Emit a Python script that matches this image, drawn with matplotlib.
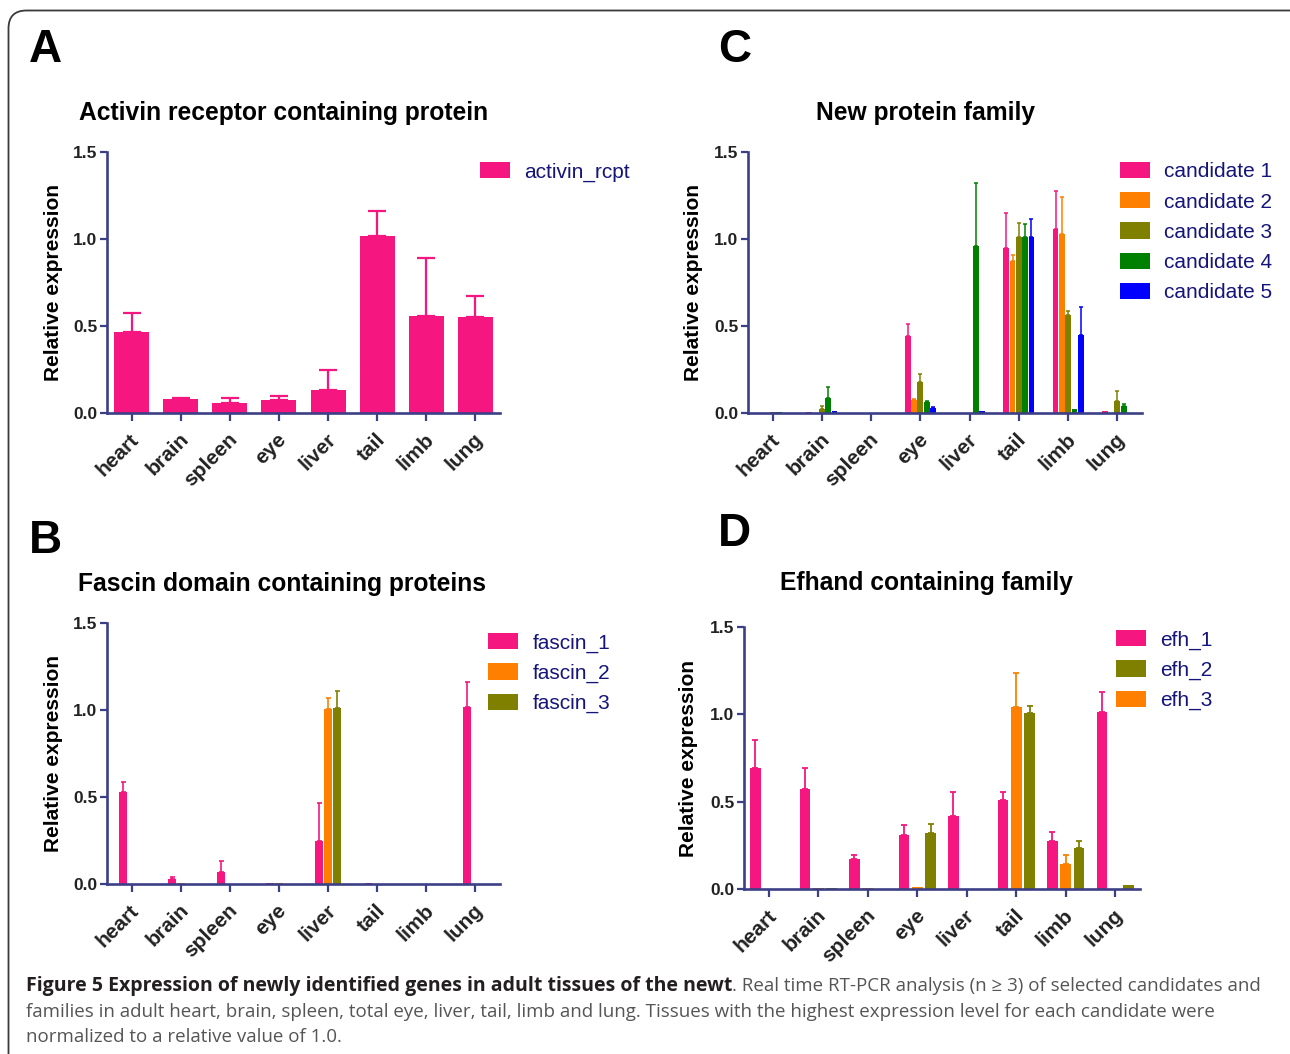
import numpy as np
import matplotlib
matplotlib.use("Agg")
import matplotlib.pyplot as plt
from matplotlib.patches import FancyBboxPatch
from matplotlib.transforms import ScaledTranslation

# ---------------- data ----------------
tissues = ["heart", "brain", "spleen", "eye", "liver", "tail", "limb", "lung"]

# Panel A
activin_vals = [0.467, 0.079, 0.057, 0.073, 0.134, 1.02, 0.56, 0.55]
activin_err = [0.108, 0.009, 0.027, 0.027, 0.111, 0.14, 0.33, 0.12]

# Panel C
cand1_vals = [0.0, 0.005, 0.002, 0.44, 0.0, 0.946, 1.057, 0.01]
cand1_err = [0.0, 0.0, 0.0, 0.069, 0.0, 0.205, 0.22, 0.0]
cand2_vals = [0.0, 0.0, 0.0, 0.076, 0.0, 0.874, 1.031, 0.0]
cand2_err = [0.0, 0.0, 0.0, 0.004, 0.0, 0.032, 0.21, 0.0]
cand3_vals = [0.005, 0.023, 0.0, 0.178, 0.0, 1.01, 0.566, 0.067]
cand3_err = [0.0, 0.019, 0.0, 0.044, 0.0, 0.08, 0.019, 0.057]
cand4_vals = [0.003, 0.086, 0.0, 0.063, 0.96, 1.01, 0.023, 0.04]
cand4_err = [0.0, 0.065, 0.0, 0.004, 0.359, 0.078, 0.0, 0.014]
cand5_vals = [0.0, 0.013, 0.0, 0.029, 0.01, 1.013, 0.451, 0.0]
cand5_err = [0.0, 0.0, 0.0, 0.004, 0.0, 0.102, 0.157, 0.0]

# Panel B
fascin1_vals = [0.527, 0.027, 0.071, 0.004, 0.247, 0.003, 0.0, 1.019]
fascin1_err = [0.057, 0.013, 0.063, 0.0, 0.217, 0.0, 0.0, 0.142]
fascin2_vals = [0.0, 0.003, 0.0, 0.004, 1.004, 0.0, 0.0, 0.0]
fascin2_err = [0.0, 0.0, 0.0, 0.0, 0.065, 0.0, 0.0, 0.0]
fascin3_vals = [0.0, 0.0, 0.0, 0.0, 1.01, 0.0, 0.0, 0.0]
fascin3_err = [0.0, 0.0, 0.0, 0.0, 0.099, 0.0, 0.0, 0.0]

# Panel D (bar order: efh_1, efh_3, efh_2)
efh1_vals = [0.694, 0.574, 0.17, 0.308, 0.419, 0.507, 0.273, 1.015]
efh1_err = [0.159, 0.12, 0.023, 0.059, 0.139, 0.046, 0.052, 0.111]
efh3_vals = [0.0, 0.005, 0.003, 0.013, 0.0, 1.04, 0.141, 0.002]
efh3_err = [0.0, 0.0, 0.0, 0.0, 0.0, 0.195, 0.056, 0.0]
efh2_vals = [0.0, 0.008, 0.0, 0.323, 0.0, 1.006, 0.237, 0.021]
efh2_err = [0.0, 0.0, 0.0, 0.048, 0.0, 0.044, 0.036, 0.0]

yticks = [0.0, 0.5, 1.0, 1.5]

# ---------------- style ----------------
PINK = "#F5177F"
ORANGE = "#FF8000"
OLIVE = "#808000"
GREEN = "#008000"
BLUE = "#0000FF"
NAVY = "#3B3F86"
LEGTXT = "#14147A"
TXT = "#222222"
FONT = ["Liberation Sans", "DejaVu Sans"]

plt.rcParams["font.family"] = FONT

W, H = 1290, 1054
fig = plt.figure(figsize=(W / 100, H / 100), dpi=100)

# background axes in pixel coordinates
bg = fig.add_axes([0, 0, 1, 1], zorder=-5)
bg.set_xlim(0, W)
bg.set_ylim(H, 0)
bg.axis("off")
frame = FancyBboxPatch((8.5, 10.5), 1320, 1100,
                       boxstyle="round,pad=0,rounding_size=18",
                       fc="none", ec="#3a3a3a", lw=1.3)
bg.add_patch(frame)


def px_axes(x0, x1, ytop, ybot):
    return fig.add_axes([x0 / W, 1 - ybot / H, (x1 - x0) / W, (ybot - ytop) / H])


def style(ax, ylab_x):
    ax.set_xlim(-0.5, 7.5)
    ax.set_ylim(0, 1.5)
    for s in ("top", "right"):
        ax.spines[s].set_visible(False)
    for s in ("left", "bottom"):
        ax.spines[s].set_color(NAVY)
        ax.spines[s].set_linewidth(1.9)
    ax.set_yticks(yticks)
    ax.set_yticklabels(["%.1f" % v for v in yticks], fontsize=12.5,
                       fontweight="bold", color=TXT)
    ax.set_xticks(np.arange(len(tissues)))
    ax.set_xticklabels(tissues, fontsize=15, fontweight="bold", color=TXT,
                       rotation=45, ha="right", va="top", rotation_mode="anchor")
    ax.tick_params(axis="y", direction="out", length=5, width=1.6,
                   color=NAVY, pad=2)
    ax.tick_params(axis="x", direction="out", length=6, width=1.6,
                   color=NAVY, pad=6)
    off = ScaledTranslation(-0.02, 0, fig.dpi_scale_trans)
    for lab in ax.get_xticklabels():
        lab.set_transform(lab.get_transform() + off)
    ax.set_ylabel("Relative expression", fontsize=15, fontweight="bold",
                  color="black")
    ax.yaxis.set_label_coords(ylab_x, 0.5)
    ax.patch.set_alpha(0)


def grouped(ax, series, errs, colors, labels, spacing, width, capsize, elw):
    n = len(series)
    x = np.arange(len(tissues))
    handles = []
    for k, (vals, err, col, lab) in enumerate(zip(series, errs, colors, labels)):
        xs = x + (k - (n - 1) / 2) * spacing
        v = np.asarray(vals)
        e = np.asarray(err)
        b = ax.bar(xs, v, width=width, color=col, lw=0, label=lab, zorder=2)
        handles.append(b)
        m = e > 0
        if m.any():
            ax.errorbar(xs[m], v[m], yerr=[np.zeros(m.sum()), e[m]], fmt="none",
                        ecolor=col, elinewidth=elw, capsize=capsize,
                        capthick=elw, zorder=3)
    return handles


def legend(ax, handles, labels, x, ytop):
    ax.legend(handles, labels, loc="upper left",
              bbox_to_anchor=(x / W, 1 - ytop / H),
              bbox_transform=fig.transFigure, frameon=False,
              fontsize=15, handlelength=1.45, handleheight=0.82,
              handletextpad=0.68, labelspacing=0.52, borderpad=0,
              borderaxespad=0, labelcolor=LEGTXT)


# ---------------- Panel A ----------------
axA = px_axes(107, 500, 152, 413)
style(axA, -0.113)
hA = grouped(axA, [activin_vals], [activin_err], [PINK], ["activin_rcpt"],
             0, 0.71, 6.5, 1.6)
legend(axA, hA, ["activin_rcpt"], 480, 162)

# ---------------- Panel C ----------------
axC = px_axes(748, 1142, 152, 413)
style(axC, -0.114)
hC = grouped(axC, [cand1_vals, cand2_vals, cand3_vals, cand4_vals, cand5_vals],
             [cand1_err, cand2_err, cand3_err, cand4_err, cand5_err],
             [PINK, ORANGE, OLIVE, GREEN, BLUE],
             ["candidate 1", "candidate 2", "candidate 3", "candidate 4",
              "candidate 5"], 0.128, 0.118, 1.6, 1.1)
legend(axC, hC, ["candidate 1", "candidate 2", "candidate 3", "candidate 4",
                 "candidate 5"], 1120, 162)

# ---------------- Panel B ----------------
axB = px_axes(107, 500, 623, 884)
style(axB, -0.113)
hB = grouped(axB, [fascin1_vals, fascin2_vals, fascin3_vals],
             [fascin1_err, fascin2_err, fascin3_err],
             [PINK, ORANGE, OLIVE], ["fascin_1", "fascin_2", "fascin_3"],
             0.177, 0.16, 1.8, 1.2)
legend(axB, hB, ["fascin_1", "fascin_2", "fascin_3"], 488, 633)

# ---------------- Panel D ----------------
axD = px_axes(744, 1140, 627, 889)
style(axD, -0.116)
hD = grouped(axD, [efh1_vals, efh3_vals, efh2_vals],
             [efh1_err, efh3_err, efh2_err],
             [PINK, ORANGE, OLIVE], ["efh_1", "efh_3", "efh_2"],
             0.27, 0.215, 2.5, 1.3)
legend(axD, [hD[0], hD[2], hD[1]], ["efh_1", "efh_2", "efh_3"], 1116, 630)

# ---------------- titles & letters ----------------
TFS = 17.7
bg.text(283.5, 113, "Activin receptor containing protein", ha="center",
        va="center", fontsize=TFS, fontweight="bold", color="black")
bg.text(925.5, 113, "New protein family", ha="center", va="center",
        fontsize=TFS, fontweight="bold", color="black")
bg.text(282, 584, "Fascin domain containing proteins", ha="center",
        va="center", fontsize=TFS, fontweight="bold", color="black")
bg.text(927, 583, "Efhand containing family", ha="center", va="center",
        fontsize=TFS, fontweight="bold", color="black")

for letter, x, y in [("A", 29, 62), ("C", 718, 62), ("B", 29, 553), ("D", 718, 546)]:
    bg.text(x, y, letter, ha="left", va="baseline", fontsize=33,
            fontweight="bold", color="black")

# ---------------- caption ----------------
CAP = ["Open Sans", "DejaVu Sans"]
cap_fs = 13.5
t1 = bg.text(26, 991, "Figure 5 Expression of newly identified genes in adult tissues of the newt",
             ha="left", va="baseline", fontsize=14.0, fontweight="bold",
             color="#231f20", family=CAP)
fig.canvas.draw()
r = fig.canvas.get_renderer()
bb = t1.get_window_extent(r)
xd = bg.transData.inverted().transform((bb.x1, 0))[0]
bg.text(xd, 991,
        ". Real time RT-PCR analysis (n \u2265 3) of selected candidates and",
        ha="left", va="baseline", fontsize=cap_fs, color="#555555",
        family=CAP)
bg.text(26, 1017,
        "families in adult heart, brain, spleen, total eye, liver, tail, limb and lung. Tissues with the highest expression level for each candidate were",
        ha="left", va="baseline", fontsize=cap_fs, color="#555555", family=CAP)
bg.text(26, 1042, "normalized to a relative value of 1.0.", ha="left",
        va="baseline", fontsize=cap_fs, color="#555555", family=CAP)

fig.savefig("out.png", dpi=100)
